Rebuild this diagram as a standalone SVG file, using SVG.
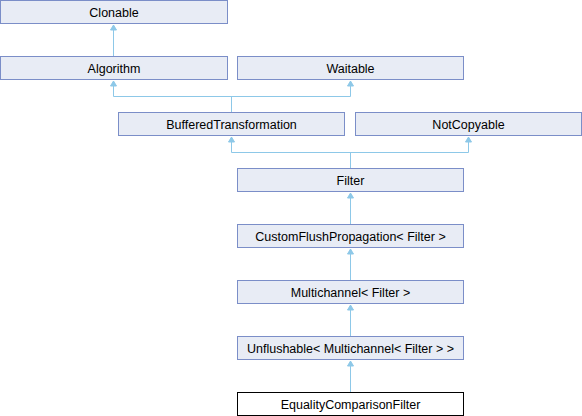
<svg xmlns="http://www.w3.org/2000/svg" width="582" height="416" viewBox="0 0 582 416">
<style>
.n rect{fill:#E8ECF5;stroke:#7B8EC8;stroke-width:1}
.n.leaf rect{fill:#FFFFFF;stroke:#000000}
.n text{font-family:"Liberation Sans",Arial,sans-serif;font-size:12.5px;fill:#000;text-anchor:middle}
.c path{fill:none;stroke:#8DC8E8;stroke-width:1}
.c polygon{fill:#8DC8E8;stroke:#8DC8E8;stroke-width:1}
</style>
<rect width="582" height="416" fill="#FFFFFF"/>
<g class="c" id="connectors">
<path d="M113.5,56V25"/>
<polygon points="113.5,25 110.5,30 116.5,30"/>
<path d="M231.5,112V96.5M113.5,81V96.5H350.5V81"/>
<polygon points="113.5,81 110.5,86 116.5,86"/>
<polygon points="350.5,81 347.5,86 353.5,86"/>
<path d="M350.5,168V152.5M231.5,137V152.5H468.5V137"/>
<polygon points="231.5,137 228.5,142 234.5,142"/>
<polygon points="468.5,137 465.5,142 471.5,142"/>
<path d="M350.5,224V193"/>
<polygon points="350.5,193 347.5,198 353.5,198"/>
<path d="M350.5,280V249"/>
<polygon points="350.5,249 347.5,254 353.5,254"/>
<path d="M350.5,336V305"/>
<polygon points="350.5,305 347.5,310 353.5,310"/>
<path d="M350.5,392V361"/>
<polygon points="350.5,361 347.5,366 353.5,366"/>
</g>
<g class="n" id="Clonable"><rect x="0.5" y="0.5" width="227" height="23"/><text x="114" y="16.5">Clonable</text></g>
<g class="n" id="Algorithm"><rect x="0.5" y="56.5" width="227" height="23"/><text x="114" y="72.5">Algorithm</text></g>
<g class="n" id="Waitable"><rect x="237.5" y="56.5" width="226" height="23"/><text x="350.5" y="72.5">Waitable</text></g>
<g class="n" id="BufferedTransformation"><rect x="118.5" y="112.5" width="226" height="23"/><text x="231.5" y="128.5">BufferedTransformation</text></g>
<g class="n" id="NotCopyable"><rect x="355.5" y="112.5" width="226" height="23"/><text x="468.5" y="128.5">NotCopyable</text></g>
<g class="n" id="Filter"><rect x="237.5" y="168.5" width="226" height="23"/><text x="350.5" y="184.5">Filter</text></g>
<g class="n" id="CustomFlushPropagation"><rect x="237.5" y="224.5" width="226" height="23"/><text x="350.5" y="240.5">CustomFlushPropagation&lt; Filter &gt;</text></g>
<g class="n" id="Multichannel"><rect x="237.5" y="280.5" width="226" height="23"/><text x="350.5" y="296.5">Multichannel&lt; Filter &gt;</text></g>
<g class="n" id="Unflushable"><rect x="237.5" y="336.5" width="226" height="23"/><text x="350.5" y="352.5">Unflushable&lt; Multichannel&lt; Filter &gt; &gt;</text></g>
<g class="n leaf" id="EqualityComparisonFilter"><rect x="237.5" y="392.5" width="226" height="23"/><text x="350.5" y="408.5">EqualityComparisonFilter</text></g>
</svg>
